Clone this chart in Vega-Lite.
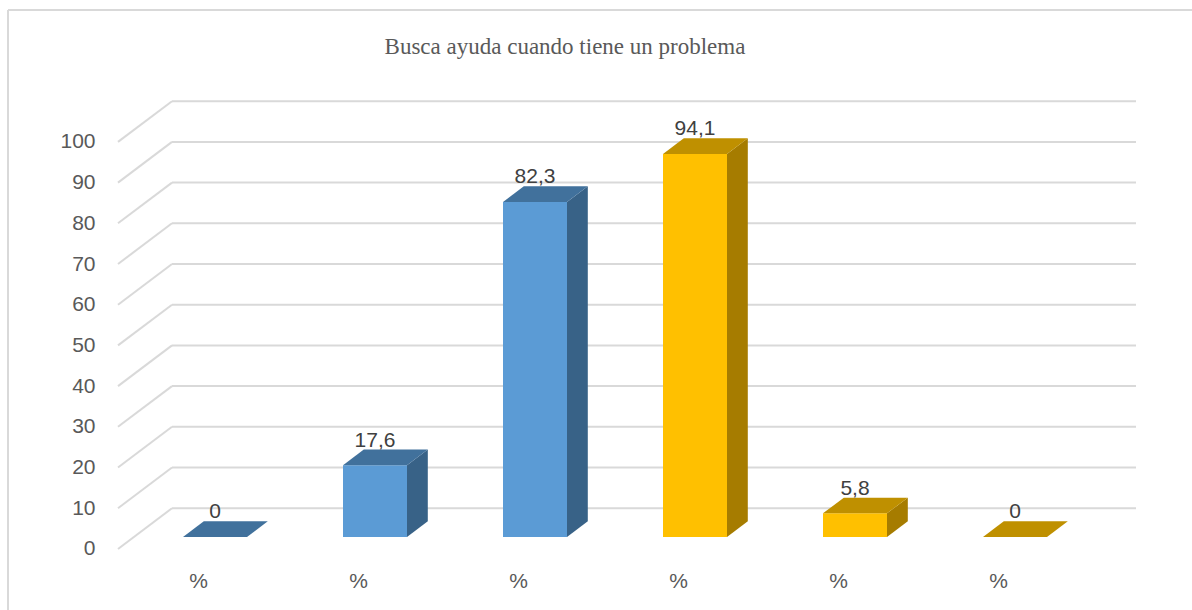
{
  "$schema": "https://vega.github.io/schema/vega-lite/v6.json",
  "autosize": "none",
  "padding": {"left": 8, "top": 10, "right": 0, "bottom": 0},
  "width": 1184,
  "height": 600,
  "background": "white",
  "config": {
    "view": {"stroke": null},
    "locale": {"number": {"decimal": ",", "thousands": ".", "grouping": [3], "currency": ["", " €"]}}
  },
  "title": {
    "text": "Busca ayuda cuando tiene un problema",
    "font": "Liberation Serif",
    "fontSize": 23,
    "fontWeight": "normal",
    "color": "#595959",
    "anchor": "middle",
    "baseline": "middle",
    "offset": 0,
    "dx": -35,
    "dy": 61
  },
  "datasets": {
    "barras": [
      {"i": 0, "categoria": "%", "valor": 0, "grupo": "A"},
      {"i": 1, "categoria": "%", "valor": 17.6, "grupo": "A"},
      {"i": 2, "categoria": "%", "valor": 82.3, "grupo": "A"},
      {"i": 3, "categoria": "%", "valor": 94.1, "grupo": "B"},
      {"i": 4, "categoria": "%", "valor": 5.8, "grupo": "B"},
      {"i": 5, "categoria": "%", "valor": 0, "grupo": "B"}
    ],
    "marcas": [
      {"v": 0}, {"v": 10}, {"v": 20}, {"v": 30}, {"v": 40}, {"v": 50},
      {"v": 60}, {"v": 70}, {"v": 80}, {"v": 90}, {"v": 100}
    ],
    "uno": [{"k": 1}]
  },
  "layer": [
    {
      "data": {"name": "marcas"},
      "transform": [{"calculate": "datum.v + 10", "as": "vb"}],
      "mark": {"type": "rule", "color": "#D9D9D9", "strokeWidth": 2},
      "encoding": {
        "x": {"datum": -0.60625, "type": "quantitative", "scale": {"domain": [-1.29375, 6.10625], "nice": false, "zero": false}, "axis": null},
        "x2": {"datum": -0.26875},
        "y": {"field": "v", "type": "quantitative", "scale": {"domain": [-15, 132.4], "nice": false, "zero": false},
          "axis": {"values": [0, 10, 20, 30, 40, 50, 60, 70, 80, 90, 100], "domain": false, "ticks": false, "tickSize": 0, "grid": false,
            "offset": -87, "labelPadding": 0, "labelFont": "Liberation Sans", "labelFontSize": 21, "labelColor": "#595959", "title": null}},
        "y2": {"field": "vb"}
      }
    },
    {
      "data": {"name": "uno"},
      "mark": {"type": "rule", "color": "#D9D9D9", "strokeWidth": 2},
      "encoding": {
        "y": {"datum": 132.4, "type": "quantitative"}
      }
    },
    {
      "data": {"name": "uno"},
      "mark": {"type": "rule", "color": "#D9D9D9", "strokeWidth": 2},
      "encoding": {
        "x": {"datum": -1.29375, "type": "quantitative"}
      }
    },
    {
      "data": {"name": "marcas"},
      "transform": [{"calculate": "datum.v + 10", "as": "vb"}],
      "mark": {"type": "rule", "color": "#D9D9D9", "strokeWidth": 2},
      "encoding": {
        "x": {"datum": -0.26875, "type": "quantitative"},
        "x2": {"datum": 5.75625},
        "y": {"field": "vb", "type": "quantitative"}
      }
    },
    {
      "data": {"name": "barras"},
      "transform": [
        {"calculate": "datum.i - 0.2", "as": "xl"},
        {"calculate": "datum.i + 0.2", "as": "xr"},
        {"calculate": "2.95", "as": "yb"},
        {"calculate": "datum.valor + 2.95", "as": "yt"}
      ],
      "mark": {"type": "rect"},
      "encoding": {
        "x": {"field": "xl", "type": "quantitative"},
        "x2": {"field": "xr"},
        "y": {"field": "yb", "type": "quantitative"},
        "y2": {"field": "yt"},
        "fill": {"condition": {"test": "datum.grupo === 'A'", "value": "#5B9BD5"}, "value": "#FFC000"}
      }
    },
    {
      "data": {"name": "barras"},
      "transform": [
        {"calculate": "[0, 1]", "as": "t"},
        {"flatten": ["t"]},
        {"calculate": "datum.i + 0.2 + datum.t * 0.13", "as": "sx"},
        {"calculate": "2.95 + datum.t * 3.85", "as": "sy"},
        {"calculate": "datum.valor + 2.95 + datum.t * 3.85", "as": "sy2"}
      ],
      "mark": {"type": "area", "orient": "vertical", "opacity": 1, "interpolate": "linear"},
      "encoding": {
        "x": {"field": "sx", "type": "quantitative"},
        "y": {"field": "sy", "type": "quantitative"},
        "y2": {"field": "sy2"},
        "detail": {"field": "i", "type": "nominal"},
        "fill": {"condition": {"test": "datum.grupo === 'A'", "value": "#386287"}, "value": "#A67C00"}
      }
    },
    {
      "data": {"name": "barras"},
      "transform": [
        {"calculate": "[0, 1, 2, 3]", "as": "t"},
        {"flatten": ["t"]},
        {"calculate": "datum.i - 0.2 + (datum.t == 0 ? 0 : datum.t == 1 ? 0.13 : datum.t == 2 ? 0.4 : 0.53)", "as": "tx"},
        {"calculate": "datum.valor + 2.95 + (datum.t == 3 ? 3.85 : 0)", "as": "ty"},
        {"calculate": "datum.valor + 2.95 + (datum.t == 0 ? 0 : 3.85)", "as": "ty2"}
      ],
      "mark": {"type": "area", "orient": "vertical", "opacity": 1, "interpolate": "linear"},
      "encoding": {
        "x": {"field": "tx", "type": "quantitative"},
        "y": {"field": "ty", "type": "quantitative"},
        "y2": {"field": "ty2"},
        "detail": {"field": "i", "type": "nominal"},
        "fill": {"condition": {"test": "datum.grupo === 'A'", "value": "#41719C"}, "value": "#BF9000"}
      }
    },
    {
      "data": {"name": "barras"},
      "transform": [{"calculate": "datum.valor + 2.95 + 3.85", "as": "yl"}],
      "mark": {"type": "text", "font": "Liberation Sans", "fontSize": 21, "color": "#404040", "baseline": "alphabetic", "align": "center", "dy": -3},
      "encoding": {
        "x": {"field": "i", "type": "quantitative"},
        "y": {"field": "yl", "type": "quantitative"},
        "text": {"field": "valor", "type": "quantitative", "format": ".1~f"}
      }
    },
    {
      "data": {"name": "barras"},
      "mark": {"type": "text", "font": "Liberation Sans", "fontSize": 21, "color": "#595959", "baseline": "middle", "align": "center", "xOffset": -16.5},
      "encoding": {
        "x": {"field": "i", "type": "quantitative"},
        "y": {"datum": -8.1, "type": "quantitative"},
        "text": {"field": "categoria", "type": "nominal"}
      }
    }
  ]
}
